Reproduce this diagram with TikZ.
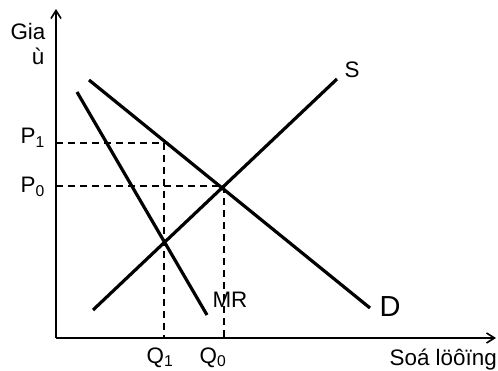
\documentclass[tikz,border=0pt]{standalone}
\usepackage{fontspec}
\setmainfont{Liberation Sans}
\usetikzlibrary{arrows.meta}
\begin{document}
\begin{tikzpicture}[x=1pt,y=-1pt,
  axis/.style={line width=2pt,-{Straight Barb[length=8pt,width=10pt,line width=1.6pt]}},
  curve/.style={line width=3.2pt},
  guide/.style={line width=2pt,dash pattern=on 7pt off 5pt},
  lbl/.style={inner sep=0pt,font=\fontsize{22.4}{24}\selectfont},
  big/.style={inner sep=0pt,font=\fontsize{29}{31}\selectfont}]
\useasboundingbox (0,0) rectangle (498,371);
% axes
\coordinate (O) at (56,338);
\coordinate (ytop) at (56,9);
\coordinate (xend) at (496,338);
\draw[axis] (O) -- (ytop);
\draw[axis] (O) -- (xend);
% curves
\coordinate (D1) at (89,80);
\coordinate (D2) at (370,308);
\coordinate (M1) at (77,92);
\coordinate (M2) at (207,315);
\coordinate (S1) at (93,310);
\coordinate (S2) at (337,79);
\draw[curve] (D1) -- (D2);
\draw[curve] (M1) -- (M2);
\draw[curve] (S1) -- (S2);
% guides
\coordinate (P1y) at (56,143);
\coordinate (A) at (164,143);
\coordinate (Q1x) at (164,338);
\coordinate (P0y) at (56,186);
\coordinate (E) at (224,186);
\coordinate (Q0x) at (224,338);
\draw[guide] (P1y) -- (A) -- (Q1x);
\draw[guide] (P0y) -- (E) -- (Q0x);
% labels
\node[lbl,anchor=base] (gia) at (28,40) {Gia};
\node[lbl,anchor=base] (u) at (38,65) {ù};
\node[lbl,anchor=base east] (p1) at (45,144) {P\textsubscript{1}};
\node[lbl,anchor=base east] (p0) at (45,193) {P\textsubscript{0}};
\node[lbl,anchor=base] (q1) at (160,363) {Q\textsubscript{1}};
\node[lbl,anchor=base] (q0) at (213,363) {Q\textsubscript{0}};
\node[lbl,anchor=base] (mr) at (230,308) {MR};
\node[big,anchor=base] (d) at (390,317) {D};
\node[lbl,anchor=base] (s) at (352,78) {S};
\node[lbl,anchor=base east] (sl) at (497,365) {Soá löôïng};
\end{tikzpicture}
\end{document}
